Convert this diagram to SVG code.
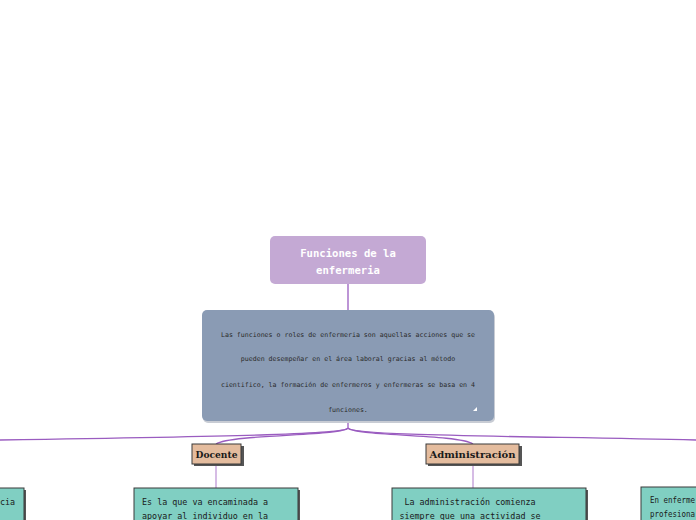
<svg xmlns="http://www.w3.org/2000/svg" width="696" height="520" viewBox="0 0 696 520">
<style>
.title{font-family:"DejaVu Sans Mono",monospace;font-size:10.6px;font-weight:bold;fill:#ffffff;text-anchor:middle}
.desc{font-family:"DejaVu Sans Mono",monospace;font-size:6.6px;fill:#2b2b2b;text-anchor:middle}
.lbl{font-family:"DejaVu Serif",serif;font-size:10px;font-weight:bold;fill:#1a1a1a;text-anchor:middle}
.body{font-family:"DejaVu Sans Mono",monospace;font-size:8.4px;fill:#1a1a1a}
.tan{fill:#e4bc9e;stroke:#3a3a3a;stroke-width:1}
.teal{fill:#80cfc2;stroke:#3a3a3a;stroke-width:1}
.shadow{fill:#555555}
.main{fill:none;stroke:#9a5cc0;stroke-width:1.3}
.sub{fill:none;stroke:#c9a6dc;stroke-width:1.5}
</style>
<rect width="696" height="520" fill="#ffffff"/>
<g id="connectors">
<path class="main" d="M348,284 L348,310"/>
<path class="main" d="M348,421 L348,428 C346,434 250,436 0,440"/>
<path class="main" d="M348,428 C344,436 232,434 216,444"/>
<path class="main" d="M348,428 C352,436 458,434 473,444"/>
<path class="main" d="M348,428 C352,436 520,436 696,440"/>
<path class="sub" d="M216,464 L216,488"/>
<path class="sub" d="M473,464 L473,488"/>
</g>
<g id="root">
<rect x="270" y="236" width="156" height="48" rx="5" fill="#c4a9d4"/>
<text class="title" x="348" y="257">Funciones de la</text>
<text class="title" x="348" y="274">enfermeria</text>
</g>
<g id="intro">
<rect x="203" y="312" width="292" height="111" rx="5" fill="#c8ccd4"/>
<rect x="202" y="310" width="292" height="111" rx="5" fill="#8a9bb4"/>
<text class="desc" x="348" y="337">Las funciones o roles de enfermeria son aquellas acciones que se</text>
<text class="desc" x="348" y="361">pueden desempeñar en el área laboral gracias al método</text>
<text class="desc" x="348" y="387">cientifico, la formación de enfermeros y enfermeras se basa en 4</text>
<text class="desc" x="348" y="412">funciones.</text>
<path d="M473,411 L477,407 L477,411 Z" fill="#ffffff"/>
</g>
<g id="docente">
<rect class="shadow" x="194" y="446" width="50" height="20"/>
<rect class="tan" x="192" y="444" width="49" height="20"/>
<text class="lbl" x="216.5" y="458" textLength="42" lengthAdjust="spacingAndGlyphs">Docente</text>
</g>
<g id="administracion">
<rect class="shadow" x="428" y="446" width="94" height="20"/>
<rect class="tan" x="426" y="444" width="93" height="20"/>
<text class="lbl" x="472.5" y="458" textLength="86" lengthAdjust="spacingAndGlyphs">Administración</text>
</g>
<g id="docente-text">
<rect class="shadow" x="136" y="490" width="164" height="40"/>
<rect class="teal" x="134" y="488" width="164" height="40"/>
<text class="body" x="142" y="505">Es la que va encaminada a</text>
<text class="body" x="142" y="519">apoyar al individuo en la</text>
</g>
<g id="administracion-text">
<rect class="shadow" x="394" y="490" width="194" height="40"/>
<rect class="teal" x="392" y="488" width="194" height="40"/>
<text class="body" x="470" y="505" text-anchor="middle">La administración comienza</text>
<text class="body" x="470" y="519" text-anchor="middle">siempre que una actividad se</text>
</g>
<g id="left-text">
<rect class="shadow" x="-20" y="490" width="46" height="40"/>
<rect class="teal" x="-22" y="488" width="46" height="40"/>
<text class="body" x="0" y="505">cia</text>
</g>
<g id="right-text">
<rect class="shadow" x="643" y="489" width="80" height="40"/>
<rect class="teal" x="641" y="487" width="80" height="40"/>
<text class="body" x="650" y="503" textLength="45" lengthAdjust="spacingAndGlyphs">En enferme</text>
<text class="body" x="650" y="517" textLength="45" lengthAdjust="spacingAndGlyphs">profesiona</text>
</g>
</svg>
